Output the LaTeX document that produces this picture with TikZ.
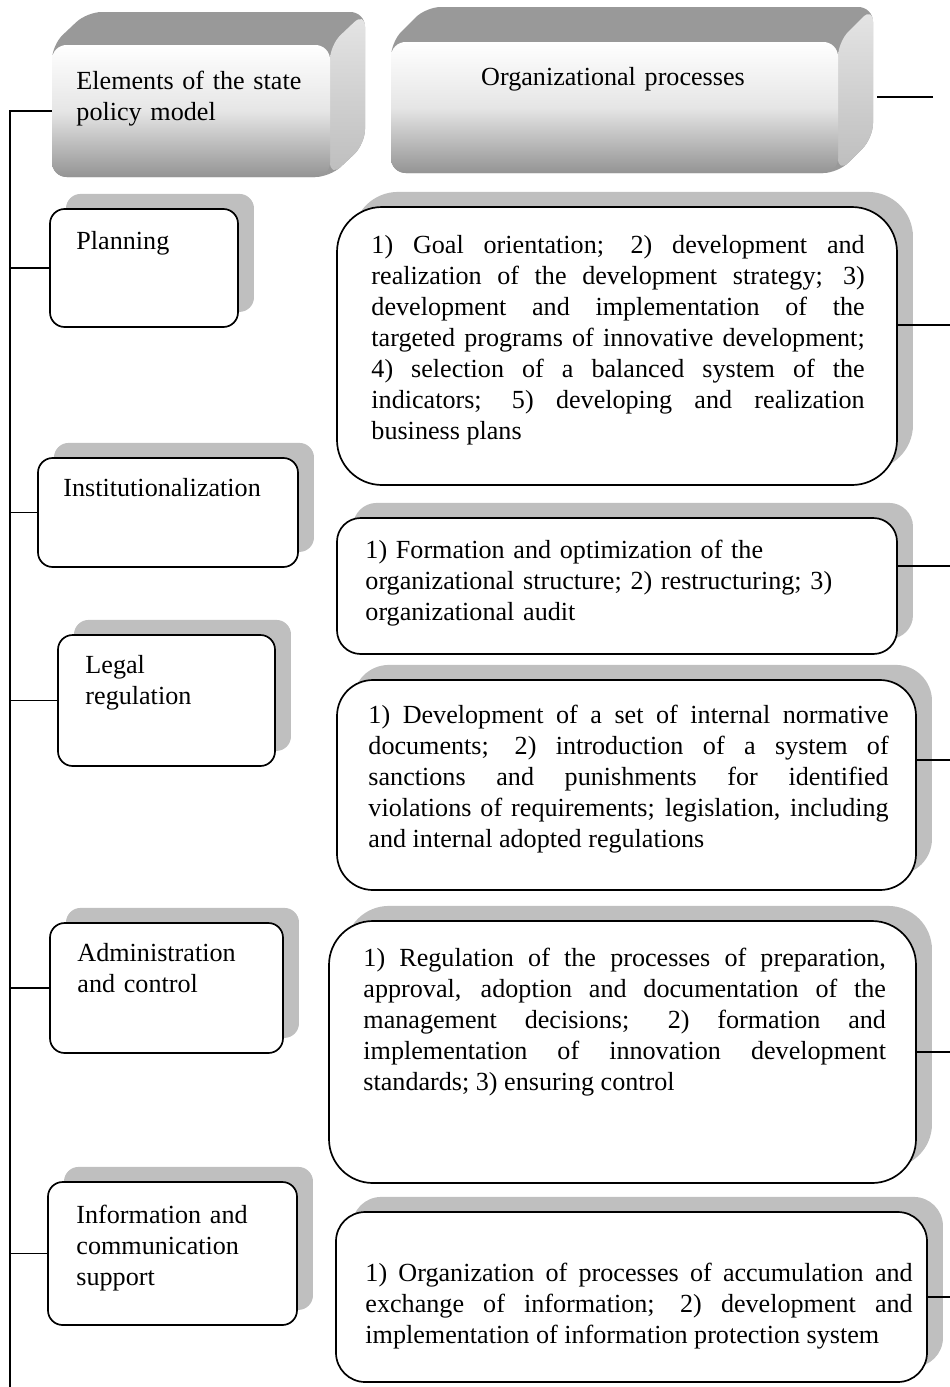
\documentclass[tikz,border=0pt]{standalone}
\usepackage{fontspec}
\setmainfont{Liberation Serif}
\usetikzlibrary{shadows,fit}

\tikzset{
  conn/.style={line width=0.75pt},
  elbox/.style={draw, line width=0.75pt, fill=white, rounded corners=6.5pt, inner sep=0pt,
    drop shadow={shadow xshift=7.1pt, shadow yshift=6.7pt, fill=black!25, opacity=1}},
  procbox/.style={elbox, rounded corners=#1},
  hdrbox/.style={inner sep=0pt, rounded corners=6.5pt,
    top color=white, bottom color=black!42, middle color=black!10},
  hdrtop/.style={fill=black!40, rounded corners=6.5pt},
  hdrside/.style={top color=black!10, bottom color=black!26, rounded corners=6.5pt},
  boxtext/.style={inner sep=0pt, anchor=base west, align=left, text width=#1,
    font=\fontsize{11.6}{13.8}\selectfont},
  proctext/.style={boxtext=#1, align=justify},
}

\begin{document}
\begin{tikzpicture}[x=0.444pt, y=-0.444pt]
\useasboundingbox (0,0) rectangle (950,1387);

%------------------ HEADERS ------------------%
\fill[hdrtop] (52,177) -- (52,45) -- (87,12) -- (365,12) -- (365,144) -- (330,177) -- cycle;
\shade[hdrside] (330,45) -- (365,12) -- (365,144) -- (330,177) -- cycle;
\node[hdrbox, fit={(52,45) (330,177)}] (hdr-el) {};
\node[boxtext=130pt] (hdr-el-t) at (76,89) {Elements of the state\\policy model};

\fill[hdrtop] (391,173) -- (391,42) -- (426,7) -- (873,7) -- (873,138) -- (838,173) -- cycle;
\shade[hdrside] (838,42) -- (873,7) -- (873,138) -- (838,173) -- cycle;
\node[hdrbox, fit={(391,42) (838,173)}] (hdr-proc) {};
\node[boxtext=160pt, anchor=base, align=center] (hdr-proc-t) at (613,85) {Organizational processes};

%------------------ LEFT COLUMN ------------------%
\node[elbox, fit={(50,209) (238,327)}] (plan) {};
\node[boxtext=70pt] (plan-t) at (76,249) {Planning};

\node[elbox, fit={(38,458) (298,567)}] (inst) {};
\node[boxtext=100pt] (inst-t) at (63,496) {Institutionalization};

\node[elbox, fit={(58,635) (275,766)}] (legal) {};
\node[boxtext=80pt] (legal-t) at (85,673) {Legal\\regulation};

\node[elbox, fit={(50,923) (283,1053)}] (admin) {};
\node[boxtext=90pt] (admin-t) at (77,961) {Administration\\and control};

\node[elbox, fit={(48,1182) (297,1325)}] (info) {};
\node[boxtext=90pt] (info-t) at (76,1223) {Information and\\communication\\support};

%------------------ RIGHT COLUMN ------------------%
\node[procbox=20pt, fit={(337,207) (897,485)}] (proc1) {};
\node[proctext=219pt] (proc1-t) at (371,253) {1) Goal orientation; 2) development and\linebreak
  realization of the development strategy; 3)\linebreak
  development and implementation of the\linebreak
  targeted programs of innovative development;\linebreak
  4) selection of a balanced system of the\linebreak
  indicators; 5) developing and realization\linebreak
  business plans};

\node[procbox=10.5pt, fit={(337,518) (897,654)}] (proc2) {};
\node[boxtext=230pt] (proc2-t) at (365,558) {1) Formation and optimization of the\\
  organizational structure; 2) restructuring; 3)\\
  organizational audit};

\node[procbox=16pt, fit={(337,680) (916,890)}] (proc3) {};
\node[proctext=231pt] (proc3-t) at (368,723) {1) Development of a set of internal normative\linebreak
  documents; 2) introduction of a system of\linebreak
  sanctions and punishments for identified\linebreak
  violations of requirements; legislation, including\linebreak
  and internal adopted regulations};

\node[procbox=19.5pt, fit={(329,921) (916,1183)}] (proc4) {};
\node[proctext=232pt] (proc4-t) at (363,966) {1) Regulation of the processes of preparation,\linebreak
  approval, adoption and documentation of the\linebreak
  management decisions; 2) formation and\linebreak
  implementation of innovation development\linebreak
  standards; 3) ensuring control};

\node[procbox=13pt, fit={(336,1212) (927,1382)}] (proc5) {};
\node[proctext=243pt] (proc5-t) at (365,1281) {1) Organization of processes of accumulation and\linebreak
  exchange of information; 2) development and\linebreak
  implementation of information protection system};

%------------------ CONNECTORS ------------------%
\coordinate (bus-end) at (10,1387);
\coordinate (rim) at (950,0);
\coordinate (proc-out) at (933,97);

\draw[conn] (hdr-el.west) -| (bus-end);
\foreach \b in {plan,inst,legal,admin,info}
  \draw[conn] (\b.west) -- (\b.west -| bus-end);

\draw[conn] (proc-out) -- ++(-56,0);
\draw[conn] ([yshift=9.3pt]proc1.east) -- ([yshift=9.3pt]proc1.east -| rim);
\draw[conn] ([yshift=8.9pt]proc2.east) -- ([yshift=8.9pt]proc2.east -| rim);
\draw[conn] ([yshift=11.1pt]proc3.east) -- ([yshift=11.1pt]proc3.east -| rim);
\draw[conn] (proc4.east) -- (proc4.east -| rim);
\draw[conn] (proc5.east) -- (proc5.east -| rim);

\end{tikzpicture}
\end{document}
